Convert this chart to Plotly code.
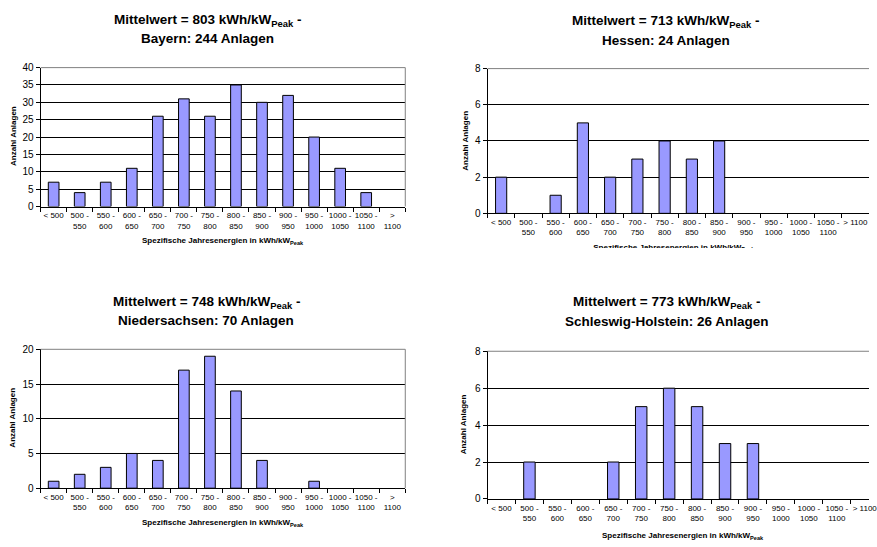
import plotly.graph_objects as go

# ---- data ----
categories = ["< 500", "500 - 550", "550 - 600", "600 - 650", "650 - 700", "700 - 750",
              "750 - 800", "800 - 850", "850 - 900", "900 - 950", "950 - 1000",
              "1000 - 1050", "1050 - 1100", "> 1100"]
ticklabels_left = ["< 500", "500 -<br>550", "550 -<br>600", "600 -<br>650", "650 -<br>700",
                   "700 -<br>750", "750 -<br>800", "800 -<br>850", "850 -<br>900",
                   "900 -<br>950", "950 -<br>1000", "1000 -<br>1050", "1050 -<br>1100",
                   "><br>1100"]
ticklabels_right = ticklabels_left[:-1] + ["> 1100"]

bayern = [7, 4, 7, 11, 26, 31, 26, 35, 30, 32, 20, 11, 4, 0]
hessen = [2, 0, 1, 5, 2, 3, 4, 3, 4, 0, 0, 0, 0, 0]
niedersachsen = [1, 2, 3, 5, 4, 17, 19, 14, 4, 0, 1, 0, 0, 0]
schleswig_holstein = [0, 2, 0, 0, 2, 5, 6, 5, 3, 3, 0, 0, 0, 0]

titles = [
    ("Mittelwert = 803 kWh/kW<sub>Peak</sub> -", "Bayern: 244 Anlagen"),
    ("Mittelwert = 713 kWh/kW<sub>Peak</sub> -", "Hessen: 24 Anlagen"),
    ("Mittelwert = 748 kWh/kW<sub>Peak</sub> -", "Niedersachsen: 70 Anlagen"),
    ("Mittelwert = 773 kWh/kW<sub>Peak</sub> -", "Schleswig-Holstein: 26 Anlagen"),
]
y_max = [40, 8, 20, 8]
y_dtick = [5, 2, 5, 2]
x_title = "Spezifische Jahresenergien in kWh/kW<sub>Peak</sub>"
y_title = "Anzahl Anlagen"

W, H = 877, 547          # reference canvas (positions below are fractions of it)
FONT = "Liberation Sans, Arial, sans-serif"
BAR = "#9999FF"


def px(x):
    return x / W


def py(y):
    return 1 - y / H


panels = [
    dict(l=41, r=409, t=63, b=205, xr=None),
    dict(l=492, r=877, t=64, b=212, xr=[-0.5, 13.5]),
    dict(l=41, r=409, t=351, b=493, xr=None),
    dict(l=492, r=877, t=353, b=504, xr=[-0.5, -0.5 + 385 / 28.2]),
]
series = [bayern, hessen, niedersachsen, schleswig_holstein]
labels = [ticklabels_left, ticklabels_right, ticklabels_left, ticklabels_right]
title_pos = [
    (209, 15, 33), (672, 15.5, 35), (208, 303, 322), (673, 303, 323)
]
xtitle_pos = [(225, 240), None, (225, 529), (689, 542)]
ytitle_pos = [(13, 133), (470, 138), (13, 421), (468, 428)]

fig = go.Figure()
layout = dict(
    autosize=True, margin=dict(l=0, r=0, t=0, b=0, pad=0),
    paper_bgcolor="white", plot_bgcolor="white", showlegend=False,
    font=dict(family=FONT, color="black"),
    bargap=0.59,
)
annotations = []
shapes = []

for i, (p, vals) in enumerate(zip(panels, series)):
    n = "" if i == 0 else str(i + 1)
    xa, ya = "x" + n, "y" + n
    fig.add_trace(go.Bar(
        x=categories, y=[v if v != 0 else None for v in vals],
        xaxis=xa, yaxis=ya,
        marker=dict(color=BAR, line=dict(color="black", width=1)),
        hoverinfo="x+y",
    ))
    xr = p["xr"] if p["xr"] else [-0.5, 13.5]
    layout["xaxis" + n] = dict(
        domain=[px(p["l"]), min(1.0, px(p["r"]))], anchor=ya,
        type="category", categoryorder="array", categoryarray=categories,
        tickmode="array", tickvals=categories, ticktext=labels[i],
        range=xr, tickson="boundaries", ticks="outside", ticklen=4,
        tickcolor="black", showline=True, linecolor="black", linewidth=1,
        showgrid=False, zeroline=False, tickangle=0, ticklabelstandoff=1,
        tickfont=dict(size=8, family=FONT, color="black"),
    )
    layout["yaxis" + n] = dict(
        domain=[py(p["b"]), py(p["t"])], anchor=xa,
        range=[0, y_max[i]], dtick=y_dtick[i], tick0=0,
        ticks="outside", ticklen=4, tickcolor="black",
        showline=True, linecolor="black", linewidth=1,
        showgrid=True, gridcolor="black", gridwidth=1, zeroline=False,
        tickfont=dict(size=10, family=FONT, color="black"),
    )
    shapes.append(dict(type="line", xref="paper", yref="paper",
                       x0=px(p["l"]), x1=min(1.0, px(p["r"])),
                       y0=py(p["t"]), y1=py(p["t"]),
                       line=dict(color="#808080", width=1), layer="above"))
    if p["r"] < W:
        shapes.append(dict(type="line", xref="paper", yref="paper",
                           x0=px(p["r"]), x1=px(p["r"]),
                           y0=py(p["b"]), y1=py(p["t"]),
                           line=dict(color="#808080", width=1), layer="above"))
    tx, ty1, ty2 = title_pos[i]
    annotations.append(dict(text="<b>" + titles[i][0] + "</b>", x=px(tx), y=py(ty1),
                            xref="paper", yref="paper", showarrow=False,
                            xanchor="center", yanchor="middle",
                            font=dict(size=13.5, family=FONT, color="black")))
    annotations.append(dict(text="<b>" + titles[i][1] + "</b>", x=px(tx), y=py(ty2),
                            xref="paper", yref="paper", showarrow=False,
                            xanchor="center", yanchor="middle",
                            font=dict(size=13.5, family=FONT, color="black")))
    if xtitle_pos[i]:
        xx, xy = xtitle_pos[i]
        annotations.append(dict(text="<b>" + x_title + "</b>", x=px(xx), y=py(xy),
                                xref="paper", yref="paper", showarrow=False,
                                xanchor="center", yanchor="middle",
                                font=dict(size=8, family=FONT, color="black")))
    yx, yy = ytitle_pos[i]
    annotations.append(dict(text="<b>" + y_title + "</b>", x=px(yx), y=py(yy),
                            xref="paper", yref="paper", showarrow=False, textangle=-90,
                            xanchor="center", yanchor="middle",
                            font=dict(size=8, family=FONT, color="black")))

# Hessen x-axis title: only its top strip is visible in the reference
fig.add_trace(go.Scatter(
    x=[680], y=[0.1], mode="text", text=["<b>" + x_title + "</b>"],
    textfont=dict(size=8, family=FONT, color="black"),
    xaxis="x5", yaxis="y5", cliponaxis=True, hoverinfo="skip",
))
layout["xaxis5"] = dict(domain=[0, 1], range=[0, W], visible=False, anchor="y5")
layout["yaxis5"] = dict(domain=[py(247.5), py(243)], range=[0, 1], visible=False, anchor="x5")

layout["annotations"] = annotations
layout["shapes"] = shapes
fig.update_layout(**layout)
fig.write_html(
    "out.html",
    default_width="100vw",
    default_height="100vh",
    config={"displayModeBar": False, "staticPlot": True, "responsive": True},
    post_script="document.body.style.margin='0px';document.body.style.padding='0px';document.body.style.overflow='hidden';",
)
